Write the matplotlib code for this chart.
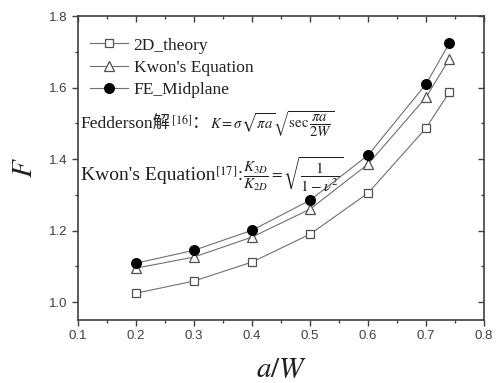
import matplotlib
matplotlib.use("Agg")
import matplotlib.pyplot as plt
from matplotlib.ticker import MultipleLocator
from matplotlib.offsetbox import TextArea, HPacker, AnchoredOffsetbox

plt.rcParams['mathtext.fontset'] = 'stix'

# crack length ratio a/W
a_w = [0.2, 0.3, 0.4, 0.5, 0.6, 0.7, 0.74]
# correction factor F
f_2d = [1.025, 1.059, 1.112, 1.190, 1.305, 1.487, 1.587]
f_kwon = [1.095, 1.126, 1.182, 1.260, 1.386, 1.573, 1.680]
f_fe = [1.109, 1.145, 1.201, 1.285, 1.411, 1.610, 1.724]

labels = ["2D_theory", "Kwon's Equation", "FE_Midplane"]
x_ticks = [0.1, 0.2, 0.3, 0.4, 0.5, 0.6, 0.7, 0.8]
y_ticks = [1.0, 1.2, 1.4, 1.6, 1.8]

fig = plt.figure(figsize=(4.97, 3.83), dpi=100)
ax = fig.add_axes([0.157, 0.1645, 0.817, 0.7935])

line_kw = dict(color='#707070', lw=0.8, markeredgewidth=0.9)
ax.plot(a_w, f_2d, marker='s', mfc='white', mec='#505050', markersize=6,
        label=labels[0], **line_kw)
ax.plot(a_w, f_kwon, marker='^', mfc='white', mec='#505050', markersize=7,
        label=labels[1], **line_kw)
ax.plot(a_w, f_fe, marker='o', mfc='black', mec='black', markersize=7,
        label=labels[2], **line_kw)

ax.set_xlim(0.1, 0.8)
ax.set_ylim(0.95, 1.8)
ax.set_xticks(x_ticks)
ax.set_yticks(y_ticks)
ax.xaxis.set_minor_locator(MultipleLocator(0.05))
ax.yaxis.set_minor_locator(MultipleLocator(0.1))
ax.set_xticklabels([f"{v:.1f}" for v in x_ticks])
ax.set_yticklabels([f"{v:.1f}" for v in y_ticks])
ax.tick_params(which='both', direction='out', colors='#404040', labelsize=9.5,
               labelcolor='#404040', width=1.0)
ax.tick_params(which='major', length=4)
ax.tick_params(which='minor', length=2.5)
for sp in ax.spines.values():
    sp.set_color('#404040')
    sp.set_linewidth(1.2)
for lab in ax.get_xticklabels() + ax.get_yticklabels():
    lab.set_family('Liberation Sans')

# inward ticks on top and right
top = ax.secondary_xaxis('top')
top.set_xticks(x_ticks)
top.xaxis.set_minor_locator(MultipleLocator(0.05))
top.tick_params(which='both', direction='in', labeltop=False, colors='#404040', width=1.0)
top.tick_params(which='major', length=4)
top.tick_params(which='minor', length=2.5)
top.spines['top'].set_visible(False)
right = ax.secondary_yaxis('right')
right.set_yticks(y_ticks)
right.yaxis.set_minor_locator(MultipleLocator(0.1))
right.tick_params(which='both', direction='in', labelright=False, colors='#404040', width=1.0)
right.tick_params(which='major', length=4)
right.tick_params(which='minor', length=2.5)
right.spines['right'].set_visible(False)

ax.set_xlabel('$a/W$', fontsize=21, color='#202020', labelpad=9)
ax.set_ylabel('$F$', fontsize=21, color='#202020', labelpad=8)

leg = ax.legend(loc='upper left', bbox_to_anchor=(0.0, 0.97), frameon=False,
                prop={'family': 'Liberation Serif', 'size': 12.5},
                handlelength=2.2, handletextpad=0.3, labelspacing=0.35,
                borderaxespad=0.3)
for t in leg.get_texts():
    t.set_color('#202020')

serif_cjk = ['Liberation Serif', 'Noto Sans CJK SC']
ink = '#202020'


def formula_line(parts, y):
    boxes = [TextArea(s, textprops=dict(family=serif_cjk, fontsize=size, color=ink))
             for s, size in parts]
    row = HPacker(children=boxes, align='baseline', pad=0, sep=0)
    box = AnchoredOffsetbox(loc='center left', child=row, pad=0, frameon=False,
                            bbox_to_anchor=(0.0, y), bbox_transform=ax.transAxes,
                            borderpad=0.2)
    ax.add_artist(box)


formula_line([('Fedderson解', 12.5), ('$^{[16]}$', 12.5), ('：', 12.5),
              ('$K=\\sigma\\sqrt{\\pi a}\\sqrt{\\sec\\dfrac{\\pi a}{2W}}$', 10.5)],
             0.645)
formula_line([("Kwon's Equation", 14), ('$^{[17]}$', 13), (':', 13),
              ('$\\dfrac{K_{3D}}{K_{2D}}=\\sqrt{\\dfrac{1}{1-\\nu^2}}$', 11)],
             0.478)

fig.savefig('out.png', dpi=100)
